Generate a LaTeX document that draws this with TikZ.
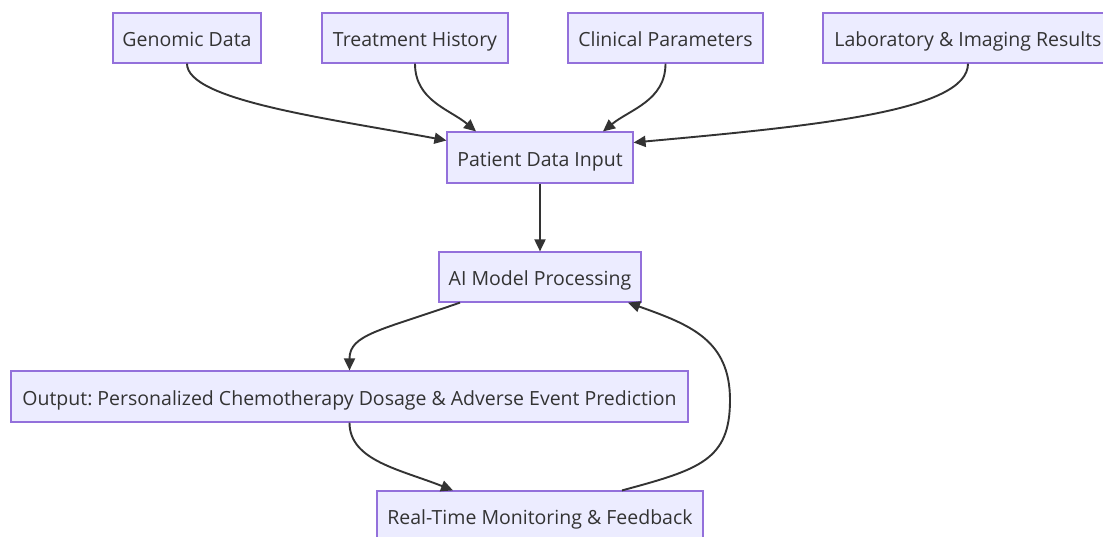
\documentclass[tikz,border=0pt]{standalone}
\usepackage{fontspec}
\setmainfont{Open Sans}
\frenchspacing
\usetikzlibrary{arrows.meta}
\definecolor{boxfill}{HTML}{ECECFF}
\definecolor{boxline}{HTML}{9370DB}
\definecolor{ink}{HTML}{333333}
\tikzset{
  box/.style={draw=boxline, fill=boxfill, line width=1.2pt, text=ink,
    minimum height=50pt, inner sep=0pt, text height=21pt, text depth=4pt,
    font=\fontsize{19.5}{22}\selectfont},
  flow/.style={draw=ink, line width=1.9pt,
    -{Triangle[length=12pt,width=11pt]}}
}
\begin{document}
\begin{tikzpicture}[x=1pt,y=-1pt]
  \path[use as bounding box] (0,0) rectangle (1103,536);
  \clip (0,0) rectangle (1103,536);
  \fill[white] (0,0) rectangle (1103,536);

  % input sources
  \node[box, minimum width=148pt] (gen) at (187,38) {Genomic Data};
  \node[box, minimum width=186pt] (trt) at (415,38) {Treatment History};
  \node[box, minimum width=195pt] (cli) at (665.5,38) {Clinical Parameters};
  \node[box, minimum width=290pt] (lab) at (968,38) {Laboratory \& Imaging Results};

  % processing chain
  \node[box, minimum width=186pt, minimum height=51pt] (pat) at (540,157.5) {Patient Data Input};
  \node[box, minimum width=202pt] (ai) at (540,277) {AI Model Processing};
  \node[box, minimum width=677pt, minimum height=51pt] (out) at (349.5,396.5)
    {Output: Personalized Chemotherapy Dosage \& Adverse Event Prediction};
  \node[box, minimum width=326pt] (rt) at (540,516) {Real-Time Monitoring \& Feedback};

  % connectors into the data input
  \draw[flow] (gen.south) .. controls +(0,37) and +(-117,-22) .. ([yshift=17pt]pat.west);
  \draw[flow] (trt.south) .. controls +(0,37) and +(-26,-22) .. ([xshift=-64pt]pat.north);
  \draw[flow] (cli.south) .. controls +(0,37) and +(27,-22) .. ([xshift=63pt]pat.north);
  \draw[flow] (lab.south) .. controls +(0,47) and +(187,-17) .. ([yshift=15pt]pat.east);

  % main chain and feedback loop
  \draw[flow] (pat.south) -- (ai.north);
  \draw[flow] ([xshift=-80pt]ai.south) .. controls +(-80,28) and +(0,-36) .. (out.north);
  \draw[flow] (out.south) .. controls +(0,38) and +(-53,-21) .. ([xshift=-87pt]rt.north);
  \coordinate (loop) at (730,400);
  \draw[flow] ([xshift=82pt]rt.north) .. controls +(78,-21) and +(0,60) .. (loop)
    .. controls +(0,-60) and +(62,22) .. ([xshift=88pt]ai.south);
\end{tikzpicture}
\end{document}
